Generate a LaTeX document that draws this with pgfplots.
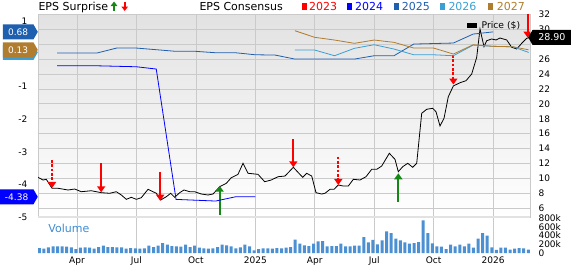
\documentclass[border=0pt]{standalone}
\usepackage{fontspec}
\setmainfont{DejaVu Sans}
\usepackage{pgfplots}
\pgfplotsset{compat=1.18}
\usetikzlibrary{shapes.symbols,arrows.meta}
\definecolor{cA}{RGB}{255,0,0}
\definecolor{cB}{RGB}{0,0,255}
\definecolor{cC}{RGB}{31,95,175}
\definecolor{cD}{RGB}{58,160,212}
\definecolor{cE}{RGB}{176,125,48}
\definecolor{gridc}{RGB}{202,202,202}
\definecolor{volc}{RGB}{74,144,210}
\definecolor{volt}{RGB}{60,140,210}
\definecolor{upg}{RGB}{20,135,20}
\definecolor{sepc}{RGB}{226,226,226}
\definecolor{bgtop}{RGB}{226,226,226}
\begin{document}
\begin{tikzpicture}[font=\fontsize{9}{10}\selectfont]
\useasboundingbox (0,0) rectangle (571pt,266pt);
\pgfplotsset{
  redarr/.style={draw=cA, line width=2pt, -{Triangle[width=8pt,length=6pt]}},
  redarrd/.style={draw=cA, line width=2pt, dash pattern=on 2.6pt off 1.7pt, -{Triangle[width=8pt,length=6pt]}},
  grnarr/.style={draw=upg, line width=2pt, -{Triangle[width=8pt,length=6pt]}},
}

% ---------- price axis (right) ----------
\begin{axis}[
  at={(38pt,49pt)}, anchor=south west, scale only axis,
  width=492pt, height=203pt,
  xmin=1.031, xmax=25.867, ymin=4.83, ymax=32.04,
  xtick={3,6,9,12,15,18,21,24}, xticklabels={},
  ytick={6,8,10,12,14,16,18,20,22,24,26,28,30,32},
  yticklabels={6,8,10,12,14,16,18,20,22,24,26,,30,32},
  yticklabel pos=right,
  yticklabel style={anchor=west, xshift=5pt},
  major tick length=0pt,
  grid=major, grid style={draw=gridc, line width=0.7pt},
  axis line style={draw=gridc, line width=0.7pt},
  axis background/.style={top color=bgtop, bottom color=white},
]
\addplot[black, line width=0.8pt] coordinates {
(1.031,10.15)(1.284,9.79)(1.450,9.88)(1.738,8.68)(2.041,8.68)(2.546,8.45)(2.884,8.58)(3.217,8.22)(3.722,8.35)(4.227,8.09)(4.651,8.01)(4.984,8.22)(5.236,7.78)(5.489,7.20)(5.741,7.47)(5.993,7.20)(6.246,7.42)(6.584,8.54)(6.836,8.22)(7.003,8.01)(7.225,7.11)(7.508,7.55)(7.730,8.01)(7.932,7.47)(8.184,8.09)(8.401,8.45)(8.689,8.22)(8.941,8.22)(9.275,7.91)(9.613,7.78)(9.865,7.91)(10.203,8.89)(10.537,9.35)(10.789,10.10)(11.127,10.55)(11.380,12.03)(11.632,10.69)(12.137,10.55)(12.475,9.56)(12.808,9.79)(13.146,10.23)(13.500,10.32)(13.919,11.49)(14.393,10.15)(14.595,10.69)(14.848,10.32)(15.065,8.09)(15.352,7.91)(15.519,8.01)(15.771,8.54)(15.973,8.54)(16.190,9.12)(16.443,8.98)(16.695,8.98)(16.948,9.88)(17.286,9.79)(17.589,10.23)(17.876,11.22)(18.129,11.22)(18.381,11.66)(18.765,13.37)(19.052,12.56)(19.219,10.90)(19.441,11.57)(19.694,12.03)(19.946,11.49)(20.148,12.03)(20.400,18.73)(20.653,19.27)(20.956,19.40)(21.122,18.94)(21.324,17.03)(21.526,18.06)(21.743,20.95)(21.996,22.39)(22.334,22.83)(22.637,23.10)(22.924,24.00)(23.177,26.24)(23.343,30.03)(23.545,27.66)(23.681,28.46)(23.934,28.69)(24.151,28.56)(24.353,28.82)(24.691,28.56)(24.943,27.58)(25.196,27.35)(25.448,28.11)(25.701,28.78)(25.867,28.90)
};
% EPS surprise arrows
\addplot[redarrd] coordinates {(1.74,12.47)(1.74,8.72)};
\addplot[redarr] coordinates {(4.22,12.03)(4.22,8.14)};
\addplot[redarr] coordinates {(7.20,10.86)(7.20,7.01)};
\addplot[grnarr] coordinates {(10.20,5.10)(10.20,9.02)};
\addplot[redarr] coordinates {(13.92,15.24)(13.92,11.49)};
\addplot[redarrd] coordinates {(16.19,12.91)(16.19,9.12)};
\addplot[grnarr] coordinates {(19.22,6.88)(19.22,10.69)};
\addplot[redarrd] coordinates {(22.00,26.54)(22.00,22.59)};
\addplot[redarr] coordinates {(25.75,32.0)(25.75,28.86)};
\coordinate (pbox) at (axis cs:25.867,28.90);
\end{axis}

% ---------- EPS axis (left) ----------
\begin{axis}[
  at={(38pt,49pt)}, anchor=south west, scale only axis,
  width=492pt, height=203pt,
  xmin=1.031, xmax=25.867, ymin=-5, ymax=1.229,
  xtick=\empty,
  ytick={-5,-4,-3,-2,-1,1},
  yticklabels={-5,-4,-3,-2,-1,1},
  yticklabel style={anchor=east, xshift=-7pt},
  major tick length=0pt,
  axis line style={draw=none},
]
\addplot[cB, line width=0.8pt] coordinates {(2,-0.36)(4,-0.36)(6,-0.39)(7,-0.46)(8,-4.46)(10,-4.51)(11,-4.38)(12,-4.38)};
\addplot[cC, line width=0.8pt] coordinates {(2,0.031)(4,0.031)(5,0.184)(6,0.184)(8,0.083)(9,0.083)(10,0.040)(11,0.040)(12,-0.022)(13,-0.031)(14,-0.154)(17,-0.154)(18,-0.052)(19,-0.052)(20,0.307)(22,0.338)(23,0.614)(24,0.68)};
\addplot[cD, line width=0.8pt] coordinates {(14,0.123)(15,0.123)(16,-0.052)(17,0.175)(18,0.286)(19,0.154)(20,-0.022)(21,-0.022)(22,-0.052)(23,0.276)(24,0.237)(25,0.224)(25.8,0.05)};
\addplot[cE, line width=0.8pt] coordinates {(14,0.716)(15,0.513)(16,0.430)(17,0.329)(18,0.430)(19,0.359)(20,0.184)(21,0.184)(22,0.0)(23,0.286)(24,0.237)(25,0.224)(25.8,0.13)};
\coordinate (b26) at (axis cs:1.031,0.05);
\coordinate (b27) at (axis cs:1.031,0.13);
\coordinate (b25) at (axis cs:1.031,0.68);
\coordinate (b24) at (axis cs:1.031,-4.38);
\coordinate (sepL) at (rel axis cs:0,0);
\coordinate (sepR) at (rel axis cs:1,0);
\end{axis}

% separator
\draw[sepc, line width=2.2pt] (sepL) -- (sepR);

% ---------- volume axis ----------
\begin{axis}[
  at={(38pt,13pt)}, anchor=south west, scale only axis,
  width=492pt, height=35pt,
  xmin=-0.284, xmax=107.37, ymin=0, ymax=805,
  xtick={8.25,21.25,34.27,47.26,60.26,73.28,86.28,99.28},
  xticklabels={Apr,Jul,Oct,2025,Apr,Jul,Oct,2026},
  ytick={0,200,400,600,800},
  yticklabels={0,200k,400k,600k,800k},
  yticklabel pos=right,
  yticklabel style={anchor=west, xshift=5pt},
  major tick length=0pt,
  xmajorgrids, grid style={draw=gridc, line width=0.7pt},
  axis line style={draw=none},
]
\addplot[ybar, bar width=3pt, fill=volc, draw=none] table[x=w, y=v] {
w v
0 115
1 100
2 130
3 153
4 153
5 153
6 146
7 130
8 92
9 123
10 130
11 123
12 100
13 138
14 169
15 138
16 138
17 130
18 130
19 100
20 115
21 107
22 100
23 107
24 169
25 138
26 169
27 230
28 192
29 161
30 153
31 146
32 192
33 138
34 169
35 123
36 107
37 100
38 107
39 138
40 192
41 176
42 153
43 107
44 130
45 192
46 153
47 61
48 92
49 107
50 107
51 100
52 115
53 107
54 123
55 138
56 307
57 215
58 176
59 160
60 215
61 268
62 276
63 153
64 160
65 160
66 215
67 153
68 153
69 168
70 168
71 368
72 245
73 300
74 200
75 290
76 500
77 460
78 330
79 290
80 245
81 215
82 230
83 253
84 750
85 460
86 222
87 153
88 145
89 92
90 192
91 153
92 192
93 153
94 215
95 123
96 330
97 460
98 400
99 130
100 70
101 123
102 123
103 77
104 100
105 115
106 108
107 77
};
\end{axis}

\node[anchor=base west, text=volt, font=\fontsize{11}{12}\selectfont, inner sep=0pt] at (48.3pt,33.5pt) {Volume};

% ---------- labels boxes ----------
\tikzset{lbox/.style={signal, signal to=east, signal pointer angle=120, text=white, minimum height=15pt, inner sep=1.5pt, anchor=east, font=\fontsize{9}{10}\selectfont}}
\node[lbox, fill=cD, minimum width=35pt] at (b26) {\phantom{0.05}};
\node[lbox, fill=cE, minimum width=35pt] at (b27) {0.13};
\node[lbox, fill=cC, minimum width=35pt] at (b25) {0.68};
\node[lbox, fill=cB, minimum width=38pt] at (b24) {-4.38};
\node[signal, signal to=west, signal pointer angle=120, fill=black, text=white, minimum height=15pt, minimum width=43pt, inner sep=1.5pt, anchor=west, font=\fontsize{9.5}{10}\selectfont] at ([xshift=-2pt]pbox) {28.90};

% Price legend
\fill[black] (467.3pt,237.7pt) rectangle (477.3pt,243.3pt);
\node[anchor=west, inner sep=0pt, font=\fontsize{9.2}{10}\selectfont] at (481.5pt,240.5pt) {Price (\$)};

% ---------- title row ----------
\node[anchor=base west, inner sep=0pt, font=\fontsize{11}{12}\selectfont] at (38.3pt,256pt) {EPS Surprise};
\draw[upg, line width=1.6pt, -{Triangle[width=6.5pt,length=4.5pt]}] (114pt,255pt) -- (114pt,264.5pt);
\draw[cA, line width=1.6pt, -{Triangle[width=6.5pt,length=4.5pt]}] (124.7pt,264.5pt) -- (124.7pt,255pt);
\node[anchor=base west, inner sep=0pt, font=\fontsize{11}{12}\selectfont] at (199.3pt,256pt) {EPS Consensus};
\fill[cA] (301.5pt,256.5pt) rectangle (306.5pt,263.5pt);
\node[anchor=base west, inner sep=0pt, text=cA, font=\fontsize{11}{12}\selectfont] at (309pt,256pt) {2023};
\fill[cB] (347pt,256.5pt) rectangle (352pt,263.5pt);
\node[anchor=base west, inner sep=0pt, text=cB, font=\fontsize{11}{12}\selectfont] at (355pt,256pt) {2024};
\fill[cC] (393.5pt,256.5pt) rectangle (398.5pt,263.5pt);
\node[anchor=base west, inner sep=0pt, text=cC, font=\fontsize{11}{12}\selectfont] at (401.7pt,256pt) {2025};
\fill[cD] (440pt,256.5pt) rectangle (445pt,263.5pt);
\node[anchor=base west, inner sep=0pt, text=cD, font=\fontsize{11}{12}\selectfont] at (448.3pt,256pt) {2026};
\fill[cE] (488.3pt,256.5pt) rectangle (493.3pt,263.5pt);
\node[anchor=base west, inner sep=0pt, text=cE, font=\fontsize{11}{12}\selectfont] at (496.7pt,256pt) {2027};
\end{tikzpicture}
\end{document}
